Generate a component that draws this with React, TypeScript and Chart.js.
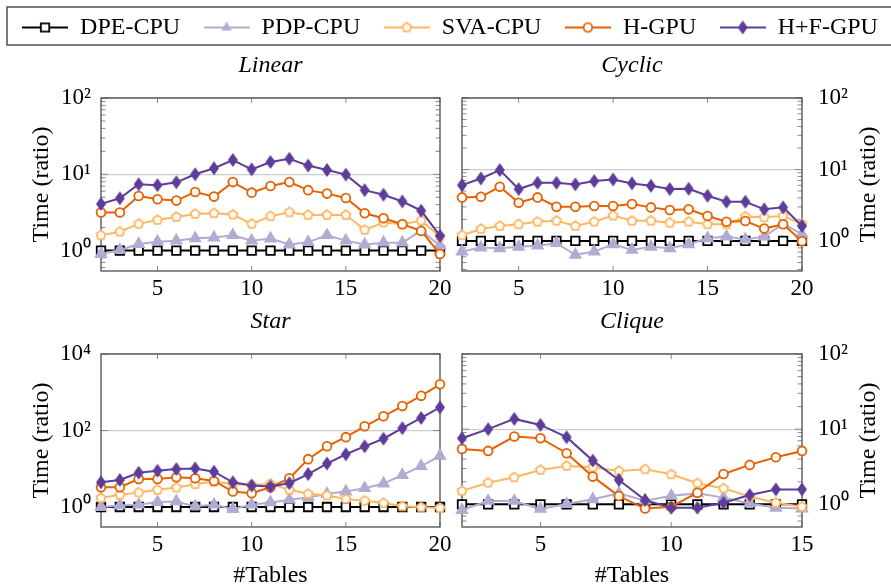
import React, { useEffect, useRef } from 'react';
import { Chart, registerables } from 'chart.js';

Chart.register(...registerables);

const FONT = '"Liberation Serif", "Times New Roman", serif';
const PAGE_W = 891;
const PAGE_H = 587;

// ---------- data ----------
const seriesNames = ['DPE-CPU', 'PDP-CPU', 'SVA-CPU', 'H-GPU', 'H+F-GPU'];
const seriesColors = ['#000000', '#b2abd2', '#fdb863', '#e66101', '#5e3c99'];

const tables20 = [2, 3, 4, 5, 6, 7, 8, 9, 10, 11, 12, 13, 14, 15, 16, 17, 18, 19, 20];
const tables15 = [2, 3, 4, 5, 6, 7, 8, 9, 10, 11, 12, 13, 14, 15];
const xTicks20 = [5, 10, 15, 20];
const xTicks15 = [5, 10, 15];
const decadeTicks = [1, 10, 100];
const starDecadeTicks = [1, 100, 10000];

// Linear
const linearDPE = [1, 1, 1, 1, 1, 1, 1, 1, 1, 1, 1, 1, 1, 1, 1, 1, 1, 1, 1];
const linearPDP = [0.9, 1.02, 1.22, 1.31, 1.35, 1.45, 1.48, 1.59, 1.35, 1.44, 1.2, 1.29, 1.59, 1.35, 1.2, 1.27, 1.27, 1.83, 1.16];
const linearSVA = [1.59, 1.77, 2.24, 2.52, 2.76, 3.02, 3.08, 2.96, 2.24, 2.82, 3.18, 2.93, 2.93, 2.93, 1.87, 2.33, 2.21, 2.47, 1.53];
const linearH = [3.15, 3.15, 5.2, 4.7, 4.52, 5.87, 5.1, 7.9, 5.75, 7.03, 7.9, 6.2, 5.58, 4.9, 3.08, 2.65, 2.21, 1.81, 0.9];
const linearHF = [4.09, 4.85, 7.4, 7.2, 7.85, 10, 12, 15.4, 11.6, 14.5, 16, 13, 11.4, 9.9, 6.2, 5.4, 4.4, 3.34, 1.56];

// Cyclic
const cyclicDPE = [1, 1, 1, 1, 1, 1, 1, 1, 1, 1, 1, 1, 1, 1, 1, 1, 1, 1, 1];
const cyclicPDP = [0.71, 0.81, 0.79, 0.83, 0.86, 0.93, 0.64, 0.71, 0.9, 0.75, 0.83, 0.79, 0.9, 1.09, 1.15, 1.05, 1.15, 1.73, 1.25];
const cyclicSVA = [1.2, 1.47, 1.62, 1.71, 1.86, 1.92, 1.62, 1.86, 2.26, 1.92, 1.92, 1.8, 1.86, 1.71, 1.71, 2.19, 2.14, 2.23, 1.73];
const cyclicH = [4.07, 4.15, 5.73, 3.43, 4.07, 3.01, 3.01, 3.08, 3.08, 3.28, 2.95, 2.71, 2.77, 2.23, 1.86, 1.9, 1.49, 1.71, 0.99];
const cyclicHF = [6.04, 7.49, 9.8, 5.32, 6.51, 6.51, 6.18, 6.88, 7.25, 6.38, 5.92, 5.32, 5.37, 4.29, 3.54, 3.54, 2.77, 2.95, 1.62];

// Star
const starDPE = [1, 1, 1, 1, 1, 1, 1, 1, 1, 1, 1, 1, 1, 1, 1, 1, 1, 1, 1];
const starPDP = [1.0, 1.1, 1.15, 1.35, 1.4, 1.04, 1.15, 0.89, 1.15, 1.32, 1.55, 1.78, 2.21, 2.54, 3.1, 4.1, 6.86, 11.7, 21.7];
const starSVA = [1.71, 2.08, 2.4, 2.81, 3.22, 3.93, 4.61, 3.93, 3.78, 4.01, 2.81, 2.21, 2.0, 1.61, 1.46, 1.27, 1.04, 0.98, 0.94];
const starH = [3.29, 3.29, 5.4, 5.4, 5.97, 5.62, 4.8, 2.54, 2.3, 3.29, 5.62, 17.8, 38.6, 67, 129, 235, 434, 804, 1610];
const starHF = [4.43, 5.09, 7.88, 8.88, 9.8, 10.2, 8.37, 4.43, 3.63, 3.42, 4.18, 7.28, 13.7, 23.9, 38.6, 60.9, 115, 213, 401];

// Clique
const cliqueDPE = [1, 1, 1, 1, 1, 1, 1, 1, 1, 1, 1, 1, 1, 1];
const cliquePDP = [0.84, 1.11, 1.11, 0.87, 1.01, 1.17, 1.4, 1.12, 1.3, 1.4, 1.23, 1.03, 0.9, 0.88];
const cliqueSVA = [1.51, 1.94, 2.29, 2.87, 3.24, 3.11, 2.78, 2.93, 2.51, 1.91, 1.63, 1.27, 1.05, 0.93];
const cliqueH = [5.47, 5.14, 7.98, 7.59, 4.79, 2.34, 1.29, 0.88, 0.93, 1.43, 2.54, 3.35, 4.23, 5.14];
const cliqueHF = [7.59, 10, 13.7, 11.4, 7.82, 3.82, 2.11, 1.14, 0.9, 0.9, 1.05, 1.33, 1.58, 1.58];

const yAxisTitle = 'Time (ratio)';
const xAxisTitle = '#Tables';

// ---------- layout specs ----------
type Panel = {
  title: string;
  xs: number[];
  xTicks: number[];
  xMax: number;
  series: number[][];
  yMin: number;
  yMax: number;
  yTicks: number[];
  minor: boolean;
  side: 'left' | 'right';
  area: { left: number; right: number; top: number; bottom: number };
  xTitle: string;
};

const panels: Panel[] = [
  {
    title: 'Linear', xs: tables20, xTicks: xTicks20, xMax: 20,
    series: [linearDPE, linearPDP, linearSVA, linearH, linearHF],
    yMin: 0.54, yMax: 100, yTicks: decadeTicks, minor: true, side: 'left',
    area: { left: 101, right: 440, top: 98, bottom: 271 }, xTitle: '',
  },
  {
    title: 'Cyclic', xs: tables20, xTicks: xTicks20, xMax: 20,
    series: [cyclicDPE, cyclicPDP, cyclicSVA, cyclicH, cyclicHF],
    yMin: 0.38, yMax: 100, yTicks: decadeTicks, minor: true, side: 'right',
    area: { left: 462, right: 802, top: 98, bottom: 271 }, xTitle: '',
  },
  {
    title: 'Star', xs: tables20, xTicks: xTicks20, xMax: 20,
    series: [starDPE, starPDP, starSVA, starH, starHF],
    yMin: 0.345, yMax: 10000, yTicks: starDecadeTicks, minor: false, side: 'left',
    area: { left: 101, right: 440, top: 354, bottom: 527 }, xTitle: xAxisTitle,
  },
  {
    title: 'Clique', xs: tables15, xTicks: xTicks15, xMax: 15,
    series: [cliqueDPE, cliquePDP, cliqueSVA, cliqueH, cliqueHF],
    yMin: 0.5, yMax: 100, yTicks: decadeTicks, minor: true, side: 'right',
    area: { left: 462, right: 802, top: 354, bottom: 527 }, xTitle: xAxisTitle,
  },
];

const SUP: Record<string, string> = { '0': '⁰', '1': '¹', '2': '²', '3': '³', '4': '⁴', '5': '⁵', '-': '⁻' };
const powLabel = (v: number) =>
  '10' + String(Math.round(Math.log10(v))).split('').map((c) => SUP[c] || c).join('');

// ---------- marker drawing ----------
function drawShape(g: CanvasRenderingContext2D, kind: string, cx: number, cy: number, color: string) {
  g.lineWidth = 1.8;
  g.strokeStyle = color;
  g.fillStyle = color;
  g.beginPath();
  if (kind === 'square') {
    g.rect(cx - 4.2, cy - 4.2, 8.4, 8.4);
    g.fillStyle = '#fff';
    g.fill();
    g.stroke();
  } else if (kind === 'triangle') {
    g.moveTo(cx, cy - 6);
    g.lineTo(cx + 5.2, cy + 3);
    g.lineTo(cx - 5.2, cy + 3);
    g.closePath();
    g.fill();
  } else if (kind === 'pentagon') {
    for (let k = 0; k < 5; k++) {
      const ang = -Math.PI / 2 + (k * 2 * Math.PI) / 5;
      const px = cx + 4.8 * Math.cos(ang);
      const py = cy + 4.8 * Math.sin(ang);
      if (k === 0) g.moveTo(px, py);
      else g.lineTo(px, py);
    }
    g.closePath();
    g.fillStyle = '#fff';
    g.fill();
    g.stroke();
  } else if (kind === 'circle') {
    g.arc(cx, cy, 4.3, 0, Math.PI * 2);
    g.fillStyle = '#fff';
    g.fill();
    g.stroke();
  } else if (kind === 'diamond') {
    g.moveTo(cx, cy - 7);
    g.lineTo(cx + 5, cy);
    g.lineTo(cx, cy + 7);
    g.lineTo(cx - 5, cy);
    g.closePath();
    g.fill();
  }
}

const shapeKinds = ['square', 'triangle', 'pentagon', 'circle', 'diamond'];

function makeImage(kind: string, color: string, w: number, h: number, withLine: boolean) {
  const c = document.createElement('canvas');
  c.width = w;
  c.height = h;
  const g = c.getContext('2d')!;
  if (withLine) {
    g.strokeStyle = color;
    g.lineWidth = 2;
    g.beginPath();
    g.moveTo(0, h / 2);
    g.lineTo(w, h / 2);
    g.stroke();
  }
  drawShape(g, kind, w / 2, h / 2, color);
  return c;
}

// ---------- plugins ----------
const frameTicksPlugin = {
  id: 'frameTicks',
  beforeDatasetsDraw(chart: any, _a: any, opts: any) {
    const { ctx, chartArea: a } = chart;
    const xs = chart.scales.x;
    const ys = chart.scales.y;
    ctx.save();
    ctx.strokeStyle = '#8a8a8a';
    ctx.lineWidth = 1;
    ctx.beginPath();
    xs.ticks.forEach((t: any) => {
      const px = xs.getPixelForValue(t.value);
      ctx.moveTo(px, a.bottom);
      ctx.lineTo(px, a.bottom - 5);
      ctx.moveTo(px, a.top);
      ctx.lineTo(px, a.top + 5);
    });
    ys.ticks.forEach((t: any) => {
      const py = ys.getPixelForValue(t.value);
      ctx.moveTo(a.left, py);
      ctx.lineTo(a.left + 7, py);
      ctx.moveTo(a.right, py);
      ctx.lineTo(a.right - 7, py);
    });
    if (opts && opts.minor) {
      const lo = Math.floor(Math.log10(ys.min));
      const hi = Math.ceil(Math.log10(ys.max));
      for (let d = lo; d < hi; d++) {
        for (let m = 2; m <= 9; m++) {
          const v = m * Math.pow(10, d);
          if (v <= ys.min || v >= ys.max) continue;
          const py = ys.getPixelForValue(v);
          ctx.moveTo(a.left, py);
          ctx.lineTo(a.left + 4.5, py);
          ctx.moveTo(a.right, py);
          ctx.lineTo(a.right - 4.5, py);
        }
      }
    }
    ctx.stroke();
    ctx.strokeStyle = '#4d4d4d';
    ctx.lineWidth = 1.3;
    ctx.strokeRect(a.left, a.top, a.right - a.left, a.bottom - a.top);
    ctx.restore();
  },
};

const sideTitlePlugin = {
  id: 'sideTitle',
  afterDraw(chart: any, _a: any, opts: any) {
    if (!opts || !opts.text) return;
    const { ctx, chartArea: a } = chart;
    ctx.save();
    ctx.translate(opts.x, (a.top + a.bottom) / 2);
    ctx.rotate(-Math.PI / 2);
    ctx.font = `24px ${FONT}`;
    ctx.fillStyle = '#000';
    ctx.textAlign = 'center';
    ctx.textBaseline = 'middle';
    ctx.fillText(opts.text, 0, 0);
    ctx.restore();
  },
};

const legendBoxPlugin = {
  id: 'legendBox',
  afterDraw(chart: any, _a: any, opts: any) {
    const { ctx } = chart;
    ctx.save();
    ctx.strokeStyle = '#333';
    ctx.lineWidth = 1.3;
    ctx.strokeRect(opts.x, opts.y, opts.w, opts.h);
    ctx.restore();
  },
};

// ---------- config builders ----------
function datasetStyle(i: number, imgs: any) {
  const c = seriesColors[i];
  const base: any = {
    borderColor: c,
    backgroundColor: c,
    borderWidth: 2,
    pointBorderColor: c,
    pointBackgroundColor: c,
    pointBorderWidth: 1.8,
    pointHoverRadius: 6,
    clip: false,
    order: 5 - i,
    tension: 0,
  };
  if (i === 0) Object.assign(base, { pointStyle: 'rect', pointRadius: 6, pointBackgroundColor: '#fff' });
  if (i === 1) Object.assign(base, { pointStyle: 'triangle', pointRadius: 6 });
  if (i === 2) Object.assign(base, { pointStyle: imgs.pentagon, pointRadius: 6 });
  if (i === 3) Object.assign(base, { pointStyle: 'circle', pointRadius: 4.4, pointBackgroundColor: '#fff' });
  if (i === 4) Object.assign(base, { pointStyle: imgs.diamond, pointRadius: 6 });
  return base;
}

function buildPanelConfig(p: Panel, imgs: any): any {
  const TITLE_BOX = 70;
  const X_BOX = p.xTitle ? PAGE_H - p.area.bottom : 40;
  const lh = 24 * 1.2;
  const titlePadTop = 38 - lh / 2;
  const titlePadBottom = TITLE_BOX - lh - titlePadTop;
  const yWidth = p.side === 'left' ? p.area.left : PAGE_W - p.area.right;
  return {
    type: 'line',
    data: {
      datasets: p.series.map((vals, i) => ({
        label: seriesNames[i],
        data: p.xs.map((x, j) => ({ x, y: vals[j] })),
        ...datasetStyle(i, imgs),
      })),
    },
    options: {
      responsive: false,
      animation: false,
      events: [],
      layout: {
        padding: {
          left: p.side === 'left' ? 0 : p.area.left,
          right: p.side === 'right' ? 0 : PAGE_W - p.area.right,
          top: p.area.top - TITLE_BOX,
          bottom: PAGE_H - p.area.bottom - X_BOX,
        },
      },
      plugins: {
        legend: { display: false },
        tooltip: { enabled: false },
        title: {
          display: true,
          text: p.title,
          fullSize: false,
          color: '#000',
          font: { family: FONT, size: 24, style: 'italic', weight: 'normal' },
          padding: { top: titlePadTop, bottom: titlePadBottom },
        },
        frameTicks: { minor: p.minor },
        sideTitle: p.side === 'right' ? { text: yAxisTitle, x: 869 } : { text: '' },
      },
      scales: {
        x: {
          type: 'linear',
          position: 'bottom',
          min: 2,
          max: p.xMax,
          afterBuildTicks: (s: any) => {
            s.ticks = p.xTicks.map((v) => ({ value: v }));
          },
          afterFit: (s: any) => {
            s.height = X_BOX;
          },
          grid: { display: false, drawTicks: false },
          border: { display: false },
          ticks: {
            color: '#000',
            font: { family: FONT, size: 23 },
            padding: 4,
            maxRotation: 0,
            autoSkip: false,
          },
          title: p.xTitle
            ? {
                display: true,
                text: p.xTitle,
                color: '#000',
                font: { family: FONT, size: 24 },
                padding: { top: 0, bottom: -3 },
              }
            : { display: false },
        },
        y: {
          type: 'logarithmic',
          position: p.side,
          min: p.yMin,
          max: p.yMax,
          afterBuildTicks: (s: any) => {
            s.ticks = p.yTicks.map((v) => ({ value: v, major: true }));
          },
          afterFit: (s: any) => {
            s.width = yWidth;
          },
          grid: { color: '#cccccc', lineWidth: 1.2, drawTicks: false },
          border: { display: false },
          ticks: {
            color: '#000',
            font: { family: FONT, size: 23 },
            padding: p.side === 'left' ? 10 : 16,
            autoSkip: false,
            callback: (v: any) => powLabel(Number(v)),
          },
          title:
            p.side === 'left'
              ? {
                  display: true,
                  text: yAxisTitle,
                  color: '#000',
                  font: { family: FONT, size: 24 },
                  padding: { top: 42 - lh / 2, bottom: 0 },
                }
              : { display: false },
        },
      },
    },
    plugins: [frameTicksPlugin, sideTitlePlugin],
  };
}

const LEG_W = 1000;
const LEG_H = 200;
const LEG_LEFT = -50;
const LEG_TOP = -8;

function buildLegendConfig(legendImgs: HTMLCanvasElement[]): any {
  return {
    type: 'line',
    data: {
      datasets: seriesNames.map((n, i) => ({ label: n, data: [], borderColor: seriesColors[i] })),
    },
    options: {
      responsive: false,
      animation: false,
      events: [],
      layout: { padding: 0 },
      scales: { x: { display: false }, y: { display: false } },
      plugins: {
        tooltip: { enabled: false },
        title: { display: false },
        legend: {
          display: true,
          position: 'top',
          align: 'center',
          maxHeight: 150,
          labels: {
            usePointStyle: true,
            pointStyleWidth: 46,
            padding: 23.5,
            color: '#000',
            font: { family: FONT, size: 24 },
            generateLabels: (chart: any) =>
              chart.data.datasets.map((ds: any, i: number) => ({
                text: ds.label,
                fillStyle: 'rgba(0,0,0,0)',
                strokeStyle: 'rgba(0,0,0,0)',
                lineWidth: 0,
                pointStyle: legendImgs[i],
                hidden: false,
                datasetIndex: i,
                fontColor: '#000',
              })),
          },
        },
        legendBox: { x: 7 - LEG_LEFT, y: 7 - LEG_TOP, w: 888, h: 38 },
      },
    },
    plugins: [legendBoxPlugin],
  };
}

export default function App() {
  const legendRef = useRef<HTMLCanvasElement | null>(null);
  const panelRefs = useRef<(HTMLCanvasElement | null)[]>([]);

  useEffect(() => {
    Chart.defaults.font.family = FONT;
    Chart.defaults.color = '#000';
    const imgs = {
      pentagon: makeImage('pentagon', seriesColors[2], 14, 14, false),
      diamond: makeImage('diamond', seriesColors[4], 12, 16, false),
    };
    const legendImgs = shapeKinds.map((k, i) => makeImage(k, seriesColors[i], 46, 16, true));
    const charts: Chart[] = [];
    if (legendRef.current) charts.push(new Chart(legendRef.current, buildLegendConfig(legendImgs)));
    panels.forEach((p, i) => {
      const cv = panelRefs.current[i];
      if (cv) charts.push(new Chart(cv, buildPanelConfig(p, imgs)));
    });
    return () => charts.forEach((c) => c.destroy());
  }, []);

  return (
    <div
      style={{
        position: 'absolute',
        left: 0,
        top: 0,
        width: PAGE_W,
        height: PAGE_H,
        overflow: 'hidden',
        background: '#fff',
      }}
    >
      <canvas
        ref={legendRef}
        width={LEG_W}
        height={LEG_H}
        style={{ position: 'absolute', left: LEG_LEFT, top: LEG_TOP }}
      />
      {panels.map((p, i) => (
        <canvas
          key={p.title}
          ref={(el) => {
            panelRefs.current[i] = el;
          }}
          width={PAGE_W}
          height={PAGE_H}
          style={{ position: 'absolute', left: 0, top: 0 }}
        />
      ))}
    </div>
  );
}
